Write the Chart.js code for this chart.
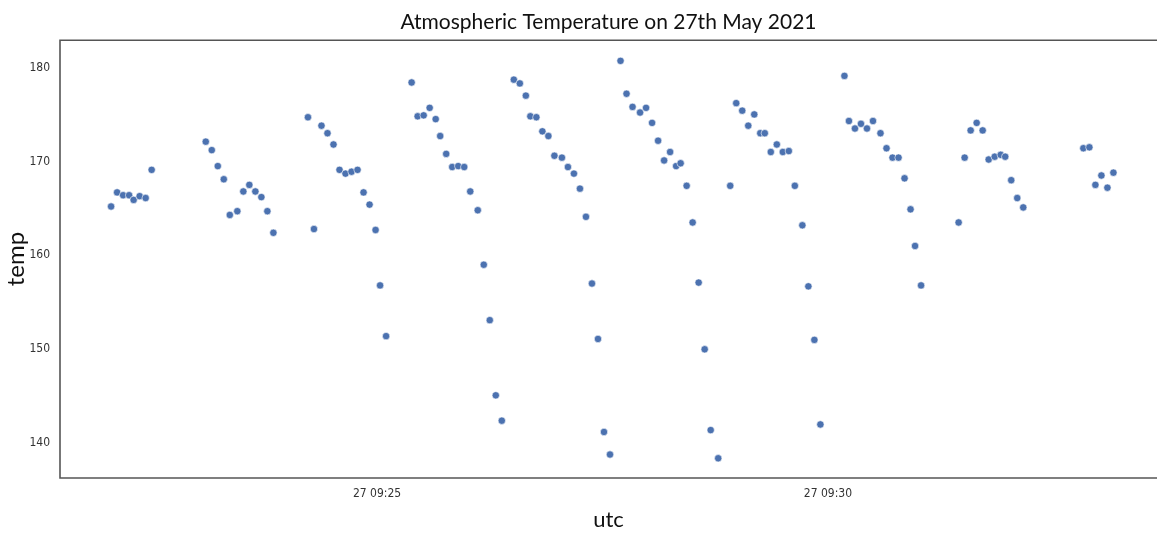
<!DOCTYPE html>
<html>
<head>
<meta charset="utf-8">
<title>Atmospheric Temperature</title>
<script src="https://cdn.jsdelivr.net/npm/chart.js@4"></script>
<style>
    body { margin: 0; background: #fff; }
    .chart-box { width: 1157px; height: 533px; position: relative; }
</style>
</head>
<body>
<div class="chart-box"><canvas id="tempChart"></canvas></div>
<script>
// Readings from 27 May 2021 (utc time, temperature)
const utc = [
    '09:22:03','09:22:07','09:22:11','09:22:15','09:22:18','09:22:22','09:22:26','09:22:30',
    '09:23:06','09:23:10','09:23:14','09:23:18','09:23:22','09:23:27','09:23:31','09:23:35','09:23:39','09:23:43','09:23:47','09:23:51',
    '09:24:14','09:24:18','09:24:23','09:24:27','09:24:31','09:24:35','09:24:39','09:24:43','09:24:47','09:24:51','09:24:55','09:24:59','09:25:02','09:25:06',
    '09:25:23','09:25:27','09:25:31','09:25:35','09:25:39','09:25:42','09:25:46','09:25:50','09:25:54','09:25:58','09:26:02','09:26:07','09:26:11','09:26:15','09:26:19','09:26:23',
    '09:26:31','09:26:35','09:26:39','09:26:42','09:26:46','09:26:50','09:26:54','09:26:58','09:27:03','09:27:07','09:27:11','09:27:15','09:27:19','09:27:23','09:27:27','09:27:31','09:27:35',
    '09:27:42','09:27:46','09:27:50','09:27:55','09:27:59','09:28:03','09:28:07','09:28:11','09:28:15','09:28:19','09:28:22','09:28:26','09:28:30','09:28:34','09:28:38','09:28:42','09:28:47',
    '09:28:55','09:28:59','09:29:03','09:29:07','09:29:11','09:29:15','09:29:18','09:29:22','09:29:26','09:29:30','09:29:34','09:29:38','09:29:43','09:29:47','09:29:51','09:29:55',
    '09:30:11','09:30:14','09:30:18','09:30:22','09:30:26','09:30:30','09:30:35','09:30:39','09:30:43','09:30:47','09:30:51','09:30:55','09:30:58','09:31:02',
    '09:31:27','09:31:31','09:31:35','09:31:39','09:31:43','09:31:47','09:31:51','09:31:55','09:31:58','09:32:02','09:32:06','09:32:10',
    '09:32:50','09:32:54','09:32:58','09:33:02','09:33:06','09:33:10'
];
const temp = [
    165.2, 166.7, 166.4, 166.4, 165.9, 166.3, 166.1, 169.1,
    172.1, 171.2, 169.5, 168.1, 164.3, 164.7, 166.8, 167.5, 166.8, 166.2, 164.7, 162.4,
    174.7, 162.8, 173.8, 173.0, 171.8, 169.1, 168.7, 168.9, 169.1, 166.7, 165.4, 162.7, 156.8, 151.4,
    178.4, 174.8, 174.9, 175.7, 174.5, 172.7, 170.8, 169.4, 169.5, 169.4, 166.8, 164.8, 159.0, 153.1, 145.1, 142.4,
    178.7, 178.3, 177.0, 174.8, 174.7, 173.2, 172.7, 170.6, 170.4, 169.4, 168.7, 167.1, 164.1, 157.0, 151.1, 141.2, 138.8,
    180.7, 177.2, 175.8, 175.2, 175.7, 174.1, 172.2, 170.1, 171.0, 169.5, 169.8, 167.4, 163.5, 157.1, 150.0, 141.4, 138.4,
    167.4, 176.2, 175.4, 173.8, 175.0, 173.0, 173.0, 171.0, 171.8, 171.0, 171.1, 167.4, 163.2, 156.7, 151.0, 142.0,
    179.1, 174.3, 173.5, 174.0, 173.5, 174.3, 173.0, 171.4, 170.4, 170.4, 168.2, 164.9, 161.0, 156.8,
    163.5, 170.4, 173.3, 174.1, 173.3, 170.2, 170.5, 170.7, 170.5, 168.0, 166.1, 165.1,
    171.4, 171.5, 167.5, 168.5, 167.2, 168.8
];

// Axis ticks
const xTickTimes = ['09:25:00', '09:30:00'];
const xTickLabels = ['27 09:25', '27 09:30'];
const yTicks = [140, 150, 160, 170, 180];

// hh:mm:ss -> seconds since midnight
function toSeconds(t) {
    const p = t.split(':').map(Number);
    return p[0] * 3600 + p[1] * 60 + p[2];
}

document.addEventListener('DOMContentLoaded', function() {
    const points = utc.map((t, i) => ({ x: toSeconds(t), y: temp[i] }));
    const tickFont = { family: "'Liberation Sans Narrow', 'DejaVu Sans Condensed', sans-serif", size: 12 };
    const handFont = "'Comic Sans MS', 'Lato', sans-serif";

    // left, top and bottom edges of the plot area
    const frame = {
        id: 'frame',
        beforeDatasetsDraw(chart) {
            const a = chart.chartArea;
            const ctx = chart.ctx;
            ctx.save();
            ctx.strokeStyle = '#555';
            ctx.lineWidth = 1.6;
            ctx.beginPath();
            ctx.moveTo(a.right, a.top);
            ctx.lineTo(a.left, a.top);
            ctx.lineTo(a.left, a.bottom);
            ctx.lineTo(a.right, a.bottom);
            ctx.stroke();
            ctx.restore();
        }
    };

    new Chart(document.getElementById('tempChart'), {
        type: 'scatter',
        data: {
            datasets: [{
                label: 'temp',
                data: points,
                backgroundColor: '#4c72b0',
                borderColor: '#ffffff',
                borderWidth: 0.6,
                pointRadius: 3.7,
                pointHoverRadius: 4
            }]
        },
        options: {
            responsive: true,
            maintainAspectRatio: false,
            animation: false,
            layout: { padding: 0, autoPadding: false },
            plugins: {
                legend: { display: false },
                tooltip: { enabled: false },
                title: {
                    display: true,
                    text: 'Atmospheric Temperature on 27th May 2021',
                    fullSize: false,
                    color: '#111',
                    font: { family: handFont, size: 21, weight: 'normal' },
                    padding: { top: 10, bottom: 5 }
                }
            },
            scales: {
                x: {
                    type: 'linear',
                    min: toSeconds('09:21:29'),
                    max: toSeconds('09:33:39'),
                    grid: { display: false, drawTicks: false },
                    border: { display: false },
                    afterBuildTicks: function(scale) {
                        scale.ticks = xTickTimes.map(t => ({ value: toSeconds(t) }));
                    },
                    afterFit: function(scale) { scale.height = 55; },
                    ticks: {
                        color: '#333',
                        font: tickFont,
                        padding: 9,
                        maxRotation: 0,
                        callback: function(value) {
                            const i = xTickTimes.findIndex(t => toSeconds(t) === value);
                            return i >= 0 ? xTickLabels[i] : '';
                        }
                    },
                    title: {
                        display: true,
                        text: 'utc',
                        color: '#111',
                        font: { family: handFont, size: 22 },
                        padding: { top: 0, bottom: 0 }
                    }
                },
                y: {
                    min: 136.3,
                    max: 182.9,
                    grid: { display: false, drawTicks: false },
                    border: { display: false },
                    afterBuildTicks: function(scale) {
                        scale.ticks = yTicks.map(v => ({ value: v }));
                    },
                    afterFit: function(scale) { scale.width = 60; },
                    ticks: {
                        color: '#333',
                        font: tickFont,
                        padding: 10
                    },
                    title: {
                        display: true,
                        text: 'temp',
                        color: '#111',
                        font: { family: handFont, size: 24 },
                        padding: { top: 2, bottom: 2 }
                    }
                }
            }
        },
        plugins: [frame]
    });
});
</script>
</body>
</html>
